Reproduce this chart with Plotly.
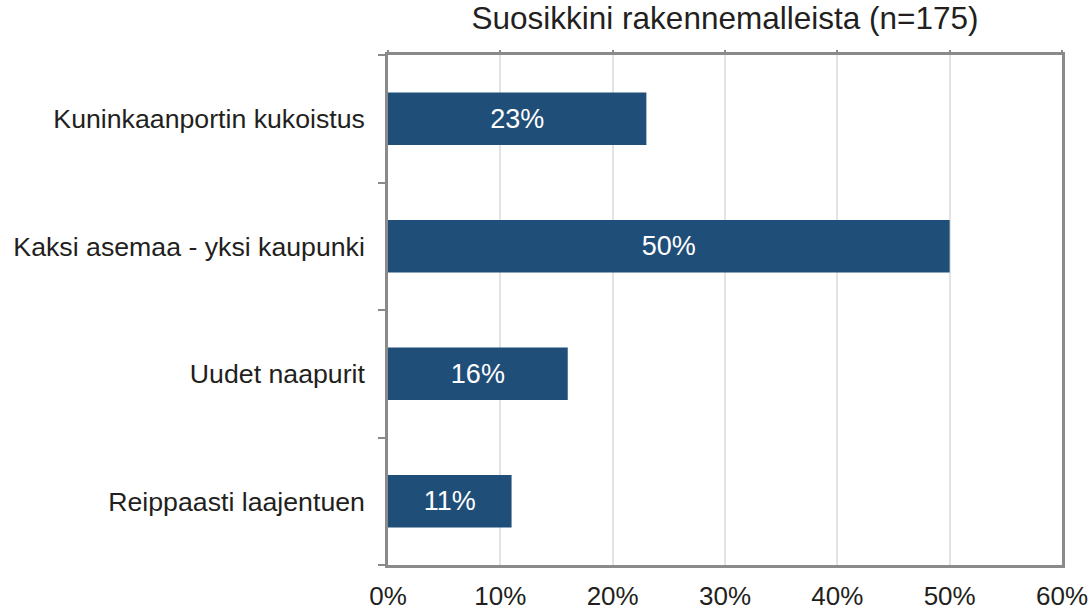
import plotly.graph_objects as go

categories = ["Kuninkaanportin kukoistus", "Kaksi asemaa - yksi kaupunki", "Uudet naapurit", "Reippaasti laajentuen"]
values = [23, 50, 16, 11]
x_ticks = [0, 10, 20, 30, 40, 50, 60]
x_tick_labels = ["0%", "10%", "20%", "30%", "40%", "50%", "60%"]
title_text = "Suosikkini rakennemalleista (n=175)"

TEXT = "#231F20"
FRAME = "#8A8A8A"
GRID = "#E3E3E3"
BAR = "#1F4E79"
FONT = "Liberation Sans, Arial, sans-serif"

W, H = 1089, 610

fig = go.Figure()
fig.add_trace(go.Bar(
    x=values, y=categories, orientation="h",
    marker=dict(color=BAR, line=dict(width=0)),
    width=0.41,
    text=[f"{v}%" for v in values], textposition="inside", insidetextanchor="middle",
    textfont=dict(color="white", size=27, family=FONT),
    hoverinfo="skip", showlegend=False,
))
# invisible trace so the top axis (ticks only) is drawn
fig.add_trace(go.Scatter(x=[0, 60], y=[categories[0], categories[0]], xaxis="x2",
                         mode="markers", marker=dict(opacity=0), showlegend=False, hoverinfo="skip"))

fig.update_layout(
    width=W, height=H,
    margin=dict(l=388, r=27, t=55, b=45, autoexpand=False),
    paper_bgcolor="white", plot_bgcolor="white",
    font=dict(family=FONT, color=TEXT),
    title=dict(text=title_text, x=725 / W, xanchor="center", y=1 - 7 / H, yanchor="top",
               font=dict(size=31.5, color=TEXT, family=FONT), automargin=False),
    xaxis=dict(range=[0, 60], tickvals=x_ticks, ticktext=x_tick_labels,
               showgrid=True, gridcolor=GRID, gridwidth=2,
               showline=True, linecolor=FRAME, linewidth=2.5, mirror=True,
               ticks="", tickfont=dict(size=26, color=TEXT, family=FONT),
               ticklabelstandoff=6, zeroline=False, fixedrange=True, automargin=False),
    xaxis2=dict(range=[0, 60], overlaying="x", side="top", tickvals=x_ticks,
                showticklabels=False, ticks="outside", ticklen=4, tickcolor=FRAME, tickwidth=1.5,
                showgrid=False, showline=False, zeroline=False, automargin=False),
    yaxis=dict(categoryorder="array", categoryarray=categories[::-1],
               tickson="boundaries", ticks="outside", ticklen=7, tickcolor=FRAME, tickwidth=1.5,
               showgrid=False, showline=True, linecolor=FRAME, linewidth=2.5, mirror=True,
               tickfont=dict(size=26.7, color=TEXT, family=FONT), ticklabelstandoff=15,
               automargin=False),
    bargap=0.59,
)

fig.write_html("out.html", config={"displayModeBar": False},
               post_script="document.body.style.margin='0';")
